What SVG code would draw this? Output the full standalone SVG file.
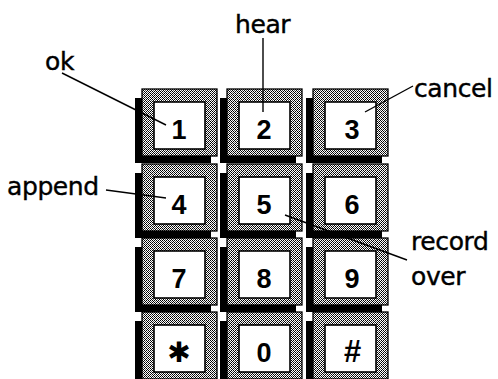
<svg xmlns="http://www.w3.org/2000/svg" width="498" height="379" viewBox="0 0 498 379">
<style>
.sh{fill:#000}
.fr{fill:url(#hatch);stroke:#000;stroke-width:1.3}
.in{fill:#fff;stroke:#000;stroke-width:1.6}
.dg{font-family:"Liberation Sans",Arial,sans-serif;font-weight:bold;font-size:27px;text-anchor:middle;fill:#000}
.lb{font-family:"DejaVu Sans","Liberation Sans",sans-serif;font-size:25px;fill:#000;stroke:#000;stroke-width:0.4;letter-spacing:-0.4px}
.ld{stroke:#000;stroke-width:1.4;fill:none}
</style>
<defs>
<pattern id="hatch" patternUnits="userSpaceOnUse" width="4" height="4">
<rect width="4" height="4" fill="#fff"/>
<rect x="0" y="0" width="1" height="1" fill="#000"/>
<rect x="1" y="1" width="1" height="1" fill="#000"/>
<rect x="2" y="2" width="1" height="1" fill="#000"/>
<rect x="3" y="3" width="1" height="1" fill="#000"/>
<rect x="2" y="0" width="1" height="1" fill="#000"/>
<rect x="0" y="2" width="1" height="1" fill="#000"/>
<rect x="3" y="1" width="1" height="1" fill="#555"/>
<rect x="1" y="3" width="1" height="1" fill="#555"/>
</pattern>
<g id="key">
<rect class="sh" x="-7" y="9" width="76" height="65"/>
<rect class="fr" x="0" y="0" width="75" height="67"/>
<rect class="in" x="12" y="13" width="51" height="47"/>
</g>
</defs>
<g id="key1"><use href="#key" x="142" y="89"/><text class="dg" x="179" y="139">1</text></g>
<g id="key2"><use href="#key" x="227" y="89"/><text class="dg" x="264" y="139">2</text></g>
<g id="key3"><use href="#key" x="313" y="89"/><text class="dg" x="352" y="139">3</text></g>
<g id="key4"><use href="#key" x="142" y="164"/><text class="dg" x="179" y="214">4</text></g>
<g id="key5"><use href="#key" x="227" y="164"/><text class="dg" x="264" y="214">5</text></g>
<g id="key6"><use href="#key" x="313" y="164"/><text class="dg" x="352" y="214">6</text></g>
<g id="key7"><use href="#key" x="142" y="238"/><text class="dg" x="179" y="288">7</text></g>
<g id="key8"><use href="#key" x="227" y="238"/><text class="dg" x="264" y="288">8</text></g>
<g id="key9"><use href="#key" x="313" y="238"/><text class="dg" x="352" y="288">9</text></g>
<g id="keystar"><use href="#key" x="142" y="312"/><text x="179" y="362" text-anchor="middle" style="font-family:'DejaVu Sans',sans-serif;font-size:28px;font-weight:bold">✱</text></g>
<g id="key0"><use href="#key" x="227" y="312"/><text class="dg" x="264" y="362">0</text></g>
<g id="keyhash"><use href="#key" x="313" y="312"/><text class="dg" x="352" y="362" style="font-style:italic;font-size:31px">#</text></g>
<g id="connectors">
<line class="ld" x1="62" y1="73" x2="166" y2="125"/>
<line class="ld" x1="263" y1="38" x2="263" y2="112"/>
<line class="ld" x1="413" y1="86" x2="365" y2="112"/>
<line class="ld" x1="106" y1="190" x2="166" y2="198"/>
<line class="ld" x1="407" y1="260" x2="285" y2="215"/>
</g>
<g id="labels">
<text class="lb" x="45" y="70">ok</text>
<text class="lb" x="235" y="33">hear</text>
<text class="lb" x="414" y="97">cancel</text>
<text class="lb" x="7" y="195">append</text>
<text class="lb" x="411" y="250">record</text>
<text class="lb" x="411" y="285">over</text>
</g>
</svg>
